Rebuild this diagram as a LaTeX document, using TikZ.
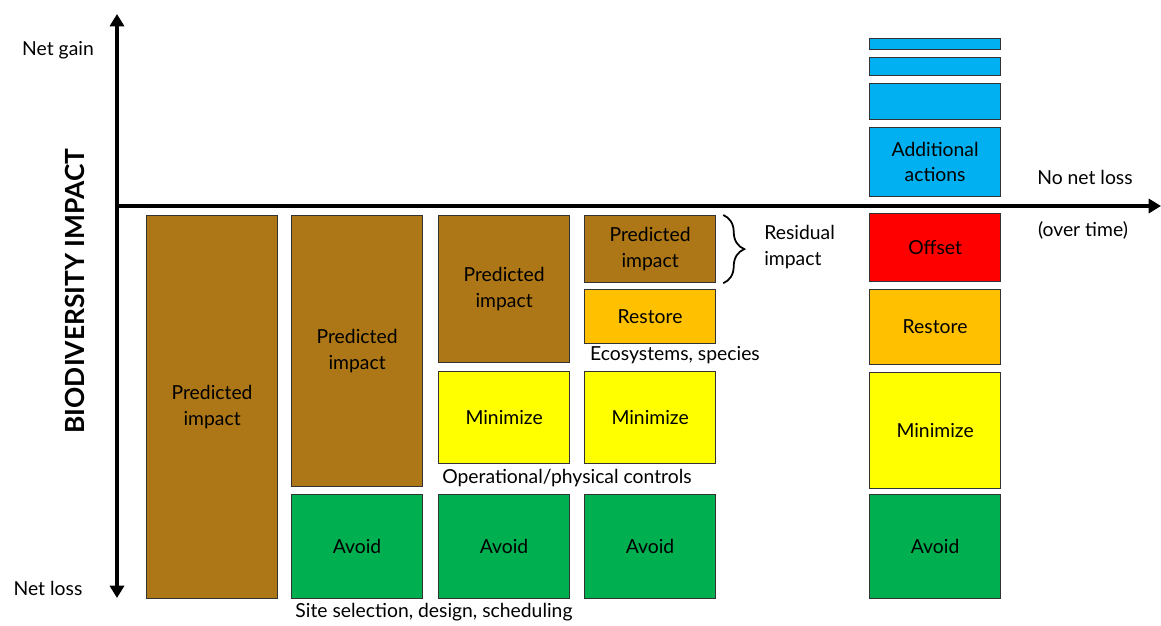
\documentclass[tikz,border=0pt]{standalone}
\usepackage{fontspec}
\setmainfont{Lato}
\usetikzlibrary{arrows.meta,decorations.pathreplacing}

\definecolor{impact}{RGB}{173,118,22}
\definecolor{avoid}{RGB}{0,176,80}
\definecolor{minimize}{RGB}{255,255,0}
\definecolor{restore}{RGB}{255,192,0}
\definecolor{offset}{RGB}{255,0,0}
\definecolor{extra}{RGB}{0,176,240}

\tikzset{
  box/.style={draw=black!80, line width=0.7pt, anchor=north west, minimum width=2.62cm,
    inner sep=0pt, align=center, font=\fontsize{11}{14.5}\selectfont},
  axis/.style={line width=2.2pt},
  tip/.tip={Triangle[length=7pt,width=8pt]},
  lbl/.style={font=\fontsize{11}{14.5}\selectfont, inner sep=0pt}
}

\begin{document}
\begin{tikzpicture}[x=0.02cm, y=-0.02cm]
        \useasboundingbox (0,0) rectangle (1161,626);

        % Axes
        \coordinate (top) at (117,14);
        \coordinate (bottom) at (117,598);
        \coordinate (origin) at (117,206);
        \coordinate (right) at (1161,206);
        \draw[axis, tip-tip] (bottom) -- (top);
        \draw[axis, -tip] (origin) -- (right);
        \node[lbl] (gain) at (58,50) {Net gain};
        \node[lbl] (loss) at (48,588) {Net loss};
        \node[lbl, font=\fontsize{15}{17}\bfseries, rotate=90] (yname) at (75,291) {BIODIVERSITY IMPACT};
        \node[lbl] (nnl) at (1085,177) {No net loss};
        \node[lbl] (time) at (1083,230) {(over time)};

        % Column 1
        \node[box, fill=impact, minimum height=7.66cm] (p1) at (146,215) {Predicted\\impact};

        % Column 2
        \node[box, fill=impact, minimum height=5.42cm] (p2) at (291,215) {Predicted\\impact};
        \node[box, fill=avoid, minimum height=2.08cm] (a2) at (291,494) {Avoid};

        % Column 3
        \node[box, fill=impact, minimum height=2.94cm] (p3) at (438,215) {Predicted\\impact};
        \node[box, fill=minimize, minimum height=1.84cm] (m3) at (438,371) {Minimize};
        \node[box, fill=avoid, minimum height=2.08cm] (a3) at (438,494) {Avoid};

        % Column 4
        \node[box, fill=impact, minimum height=1.34cm] (p4) at (584,215) {Predicted\\impact};
        \node[box, fill=restore, minimum height=1.08cm] (r4) at (584,289) {Restore};
        \node[box, fill=minimize, minimum height=1.84cm] (m4) at (584,371) {Minimize};
        \node[box, fill=avoid, minimum height=2.08cm] (a4) at (584,494) {Avoid};

        % Brace for the residual impact
        \coordinate (bt) at ([xshift=0.14cm]p4.north east);
        \coordinate (bb) at ([xshift=0.14cm]p4.south east);
        \draw[line width=1pt, decorate, decoration={brace, amplitude=12pt}] (bt) -- (bb);
        \node[lbl, anchor=west, align=left] (resid) at (764,247) {Residual\\impact};

        % Column 5
        \node[box, fill=extra, minimum height=0.22cm] (x1) at (869,38) {};
        \node[box, fill=extra, minimum height=0.36cm] (x2) at (869,57) {};
        \node[box, fill=extra, minimum height=0.72cm] (x3) at (869,83) {};
        \node[box, fill=extra, minimum height=1.38cm] (x4) at (869,127) {Additional\\actions};
        \node[box, fill=offset, minimum height=1.36cm] (o5) at (869,213) {Offset};
        \node[box, fill=restore, minimum height=1.5cm] (r5) at (869,289) {Restore};
        \node[box, fill=minimize, minimum height=2.32cm] (m5) at (869,372) {Minimize};
        \node[box, fill=avoid, minimum height=2.08cm] (a5) at (869,494) {Avoid};

        % Notes under the boxes
        \node[lbl] (eco) at (675,355) {Ecosystems, species};
        \node[lbl] (ops) at (567,478) {Operational/physical controls};
        \node[lbl] (site) at (434,612) {Site selection, design, scheduling};
    \end{tikzpicture}
\end{document}
